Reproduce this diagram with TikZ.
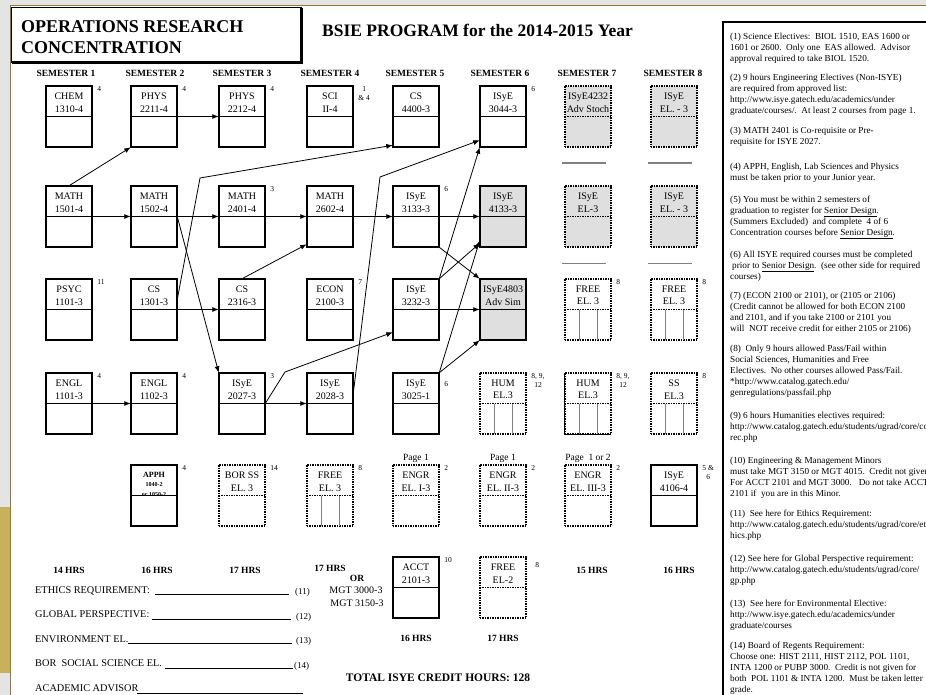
\documentclass[tikz,border=0pt]{standalone}
\usepackage{fontspec}
\setmainfont{Liberation Serif}
\usetikzlibrary{arrows.meta}
\definecolor{slidegray}{HTML}{E4E4E4}
\definecolor{slidegold}{HTML}{C7B15C}
\definecolor{rulegold}{HTML}{8F7B35}

\begin{document}
\begin{tikzpicture}[x=1pt, y=-1pt,
    box/.style={draw, minimum width=46.5pt, minimum height=61.5pt, inner sep=0pt, outer sep=0pt},
    course/.style={box, line width=1.6pt,
        path picture={\draw[line width=1.6pt] (path picture bounding box.west) -- (path picture bounding box.east);},
        label={[ctext]north:#1}},
    elective/.style={box, line width=1.8pt, dash pattern=on 1.4pt off 1.1pt,
        path picture={\draw[line width=1.8pt, dash pattern=on 1.4pt off 1.1pt] (path picture bounding box.west) -- (path picture bounding box.east);},
        label={[ctext]north:#1}},
    grayfill/.style={fill=gray!25},
    ctext/.style={anchor=north, align=center, inner sep=0pt, yshift=-7pt, font=\fontsize{10}{12.5}\selectfont},
    fn/.style={label={[fnote]north east:#1}},
    fnote/.style={anchor=north west, align=center, inner sep=0pt, xshift=5pt, yshift=-1pt, font=\fontsize{7.5}{8.5}\selectfont},
    page/.style={label={[anchor=south, inner sep=0pt, yshift=2pt, font=\fontsize{9.5}{11}\selectfont]north:#1}},
    sem/.style={inner sep=0pt, font=\fontsize{9.5}{11}\selectfont\bfseries},
    hrs/.style={inner sep=0pt, font=\fontsize{9.5}{11}\selectfont\bfseries},
    form/.style={anchor=base west, inner sep=0pt, font=\fontsize{10.3}{12}\selectfont},
    formno/.style={anchor=base west, inner sep=0pt, font=\fontsize{9}{11}\selectfont},
    remark/.style={anchor=north west, align=left, inner sep=0pt, font=\fontsize{9.2}{11}\selectfont},
    arr/.style={-{Latex[length=6.5pt,width=5pt]}, line width=0.8pt},
    tally/.style={gray, line width=1pt},
    rule/.style={gray, line width=1.5pt},
    blank/.style={line width=0.7pt}
]
\useasboundingbox (0,0) rectangle (926,695);

% slide background
\fill[white] (0,0) rectangle (926,695);
\fill[slidegray] (0,0) rectangle (10,695);
\fill[slidegray] (0,0) rectangle (926,5);
\fill[slidegold] (0,507) rectangle (10,673);
\draw[rulegold, line width=1.5pt] (10.5,695) -- (10.5,5.5) -- (926,5.5);

% headings
\draw[line width=1.5pt] (11.5,7.5) rectangle (301,62);
\draw[line width=2.5pt] (302,8) -- (302,63) -- (12,63);
\node[anchor=base west, inner sep=0pt, font=\fontsize{18}{20}\selectfont\bfseries] (orc1) at (21,33) {OPERATIONS RESEARCH};
\node[anchor=base west, inner sep=0pt, font=\fontsize{18}{20}\selectfont\bfseries] (orc2) at (21,54) {CONCENTRATION};
\node[anchor=base west, inner sep=0pt, font=\fontsize{17.5}{20}\selectfont\bfseries] (bsie) at (322,37) {BSIE PROGRAM for the 2014-2015 Year};

\foreach \x/\n in {66/1,155/2,242/3,330/4,415/5,500/6,587/7,673/8}
    \node[sem] (sem\n) at (\x,73) {SEMESTER \n};

% row 1
\node[course={CHEM\\1310-4}, fn=4] (chem) at (69,116.5) {};
\node[course={PHYS\\2211-4}, fn=4] (phys1) at (154,116.5) {};
\node[course={PHYS\\2212-4}, fn=4] (phys2) at (242,116.5) {};
\node[course={SCI\\II-4}, fn={1\\\& 4}] (sci) at (330,116.5) {};
\node[course={CS\\4400-3}] (cs4400) at (416,116.5) {};
\node[course={ISyE\\3044-3}, fn=6] (isye3044) at (503,116.5) {};
\node[elective={ISyE4232\\Adv Stoch}, grayfill] (stoch) at (588,116.5) {};
\node[elective={ISyE\\EL. - 3}, grayfill] (isyeela) at (674,116.5) {};

% row 2
\node[course={MATH\\1501-4}] (math1501) at (69,216.5) {};
\node[course={MATH\\1502-4}] (math1502) at (154,216.5) {};
\node[course={MATH\\2401-4}, fn=3] (math2401) at (242,216.5) {};
\node[course={MATH\\2602-4}] (math2602) at (330,216.5) {};
\node[course={ISyE\\3133-3}, fn=6] (isye3133) at (416,216.5) {};
\node[course={ISyE\\4133-3}, grayfill] (isye4133) at (503,216.5) {};
\node[elective={ISyE\\EL-3}, grayfill] (isyeelb) at (588,216.5) {};
\node[elective={ISyE\\EL. - 3}, grayfill] (isyeelc) at (674,216.5) {};

% row 3
\node[course={PSYC\\1101-3}, fn=11] (psyc) at (69,309.5) {};
\node[course={CS\\1301-3}] (cs1301) at (154,309.5) {};
\node[course={CS\\2316-3}] (cs2316) at (242,309.5) {};
\node[course={ECON\\2100-3}, fn=7] (econ) at (330,309.5) {};
\node[course={ISyE\\3232-3}] (isye3232) at (416,309.5) {};
\node[course={ISyE4803\\Adv Sim}, grayfill] (advsim) at (503,309.5) {};
\node[elective={FREE\\EL. 3}, fn=8] (free7) at (588,309.5) {};
\node[elective={FREE\\EL. 3}, fn=8] (free8) at (674,309.5) {};

% row 4
\node[course={ENGL\\1101-3}, fn=4] (engl1) at (69,403.5) {};
\node[course={ENGL\\1102-3}, fn=4] (engl2) at (154,403.5) {};
\node[course={ISyE\\2027-3}, fn=3] (isye2027) at (242,403.5) {};
\node[course={ISyE\\2028-3}] (isye2028) at (330,403.5) {};
\node[course={ISyE\\3025-1}, label={[fnote, yshift=-8pt]north east:6}] (isye3025) at (416,403.5) {};
\node[elective={HUM\\EL.3}, fn={8, 9,\\12}] (hum6) at (503,403.5) {};
\node[elective={HUM\\EL.3}, fn={8, 9,\\12}] (hum7) at (588,403.5) {};
\node[elective={SS\\EL.3}, fn=8] (ss8) at (674,403.5) {};

% row 5
\node[course={\fontsize{8}{9}\selectfont\bfseries APPH\\[-3pt]\fontsize{6}{7}\selectfont\bfseries 1040-2\\[-3pt]\fontsize{6}{7}\selectfont\bfseries or 1050-2}, fn=4] (apph) at (154,495.5) {};
\node[elective={BOR SS\\EL. 3}, fn=14] (borss) at (242,495.5) {};
\node[elective={FREE\\EL. 3}, fn=8] (free4) at (330,495.5) {};
\node[elective={ENGR\\EL. I-3}, fn=2, page={Page 1}] (engr1) at (416,495.5) {};
\node[elective={ENGR\\EL. II-3}, fn=2, page={Page 1}] (engr2) at (503,495.5) {};
\node[elective={ENGR\\EL. III-3}, fn=2, page={Page\ \ 1 or 2}] (engr3) at (588,495.5) {};
\node[course={ISyE\\4106-4}, fn={5 \&\\6}] (isye4106) at (674,495.5) {};

% row 6
\node[course={ACCT\\2101-3}, fn=10] (acct) at (416,587.5) {};
\node[elective={FREE\\EL-2}, label={[fnote, xshift=4pt, yshift=-5pt]north east:8}] (free6) at (503,587.5) {};

% split bottoms and separators
\foreach \n in {free4,free7,free8,hum6,hum7,ss8} {
    \draw[tally] ([xshift=15pt]\n.south west) -- ([xshift=15pt]\n.west);
    \draw[tally] ([xshift=-14pt]\n.south east) -- ([xshift=-14pt]\n.east);
}
\draw[line width=1pt] (hum7.north west) -- (hum7.south west) -- (hum7.south east);
\foreach \n in {stoch,isyeela,isyeelb,isyeelc}
    \draw[rule] ([xshift=-3pt,yshift=-16pt]\n.south west) -- ([xshift=-5pt,yshift=-16pt]\n.south east);

% prerequisites
\coordinate (k1) at (200,178);
\coordinate (k2) at (285,372);
\coordinate (k3) at (380,177);
\draw[arr] (phys1.east) -- (phys2.west);
\draw[arr] (math1501.north) -- (phys1.south west);
\draw[arr] (math1501.east) -- (math1502.west);
\draw[arr] (math1502.east) -- (math2401.west);
\draw[arr] (math2401.east) -- (math2602.west);
\draw[arr] (math2602.east) -- (isye3133.west);
\draw[arr] (isye3133.east) -- (isye4133.west);
\draw[arr] (math1502.east) -- (isye2027.north west);
\draw[arr] (cs1301.east) -- (cs2316.west);
\draw[arr] ([yshift=10pt]cs1301.east) -- (k1) -- ([yshift=2pt]cs4400.south west);
\draw[arr] (cs2316.north) -- ([yshift=3pt]math2602.south west);
\draw[arr] (engl1.east) -- (engl2.west);
\draw[arr] (isye2027.east) -- (isye2028.west);
\draw[arr] (isye2027.east) -- (k2) -- ([yshift=8pt]isye3232.south west);
\draw[arr] ([yshift=10pt]isye2028.east) -- (k3) -- ([yshift=7pt]isye3044.south west);
\draw[arr] (isye3232.north east) -- (isye3044.south west);
\draw[arr] (isye3232.north east) -- ([yshift=4pt]isye4133.south west);
\draw[arr] (isye3133.south east) -- (advsim.north west);
\draw[arr] (isye3232.east) -- (advsim.west);
\draw[arr] (isye3025.north east) -- ([yshift=7pt]isye4133.south west);
\draw[arr] (isye3025.north east) -- (advsim.south west);

% hours
\node[hrs] (h1) at (69,570) {14 HRS};
\node[hrs] (h2) at (157,570) {16 HRS};
\node[hrs] (h3) at (245,570) {17 HRS};
\node[hrs] (h4) at (330,568) {17 HRS};
\node[hrs] (hor) at (357,578) {OR};
\node[inner sep=0pt, font=\fontsize{10}{12}\selectfont] (mgt1) at (356,590) {MGT 3000-3};
\node[inner sep=0pt, font=\fontsize{10}{12}\selectfont] (mgt2) at (357,603) {MGT 3150-3};
\node[hrs] (h5) at (416,638) {16 HRS};
\node[hrs] (h6) at (503,638) {17 HRS};
\node[hrs] (h7) at (592,570) {15 HRS};
\node[hrs] (h8) at (679,570) {16 HRS};

% sign-off lines
\node[form] (ethics) at (35,593.5) {ETHICS REQUIREMENT:};
\draw[blank] (155,594) -- (289,594);
\node[formno] (n11) at (295,594) {(11)};
\node[form] (global) at (35,617) {GLOBAL PERSPECTIVE:};
\draw[blank] (152,619) -- (291,619);
\node[formno] (n12) at (296,619) {(12)};
\node[form] (envir) at (35,642) {ENVIRONMENT EL.};
\draw[blank] (128,643) -- (292,643);
\node[formno] (n13) at (296,643) {(13)};
\node[form] (borsoc) at (35,666) {BOR\ \ SOCIAL SCIENCE EL.};
\draw[blank] (165,668) -- (293,668);
\node[formno] (n14) at (294,668) {(14)};
\node[form] (advisor) at (35,691) {ACADEMIC ADVISOR};
\draw[blank] (137,693) -- (303,693);
\node[inner sep=0pt, font=\fontsize{11.5}{13}\selectfont\bfseries] (total) at (438,678) {TOTAL ISYE CREDIT HOURS: 128};

% footnotes panel
\draw[line width=2pt] (940,22) -- (723,22) -- (723,720);
\node[remark] (r1) at (730,32.5) {(1) Science Electives:\ \ BIOL 1510, EAS 1600 or\\1601 or 2600.\ \ Only one\ \ EAS allowed.\ \ Advisor\\approval required to take BIOL 1520.};
\node[remark] (r2) at (730,73.5) {(2) 9 hours Engineering Electives (Non-ISYE)\\are required from approved list:\\http://www.isye.gatech.edu/academics/under\\graduate/courses/.\ \ At least 2 courses from page 1.};
\node[remark] (r3) at (730,126.5) {(3) MATH 2401 is Co-requisite or Pre-\\requisite for ISYE 2027.};
\node[remark] (r4) at (730,162.5) {(4) APPH, English, Lab Sciences and Physics\\must be taken prior to your Junior year.};
\node[remark] (r5) at (730,195.5) {(5) You must be within 2 semesters of\\graduation to register for \underline{Senior Design}.\\(Summers Excluded)\ \ and complete\ \ 4 of 6\\Concentration courses before \underline{Senior Design}.};
\node[remark] (r6) at (730,250.5) {(6) All ISYE required courses must be completed\\\hspace{2pt}prior to \underline{Senior Design}.\ \ (see other side for required\\courses)};
\node[remark] (r7) at (730,291.5) {(7) (ECON 2100 or 2101), or (2105 or 2106)\\(Credit cannot be allowed for both ECON 2100\\and 2101, and if you take 2100 or 2101 you\\will\ \ NOT receive credit for either 2105 or 2106)};
\node[remark] (r8) at (730,344.5) {(8)\ \ Only 9 hours allowed Pass/Fail within\\Social Sciences, Humanities and Free\\Electives.\ \ No other courses allowed Pass/Fail.\\*http://www.catalog.gatech.edu/\\genregulations/passfail.php};
\node[remark] (r9) at (730,411.5) {(9) 6 hours Humanities electives required:\\http://www.catalog.gatech.edu/students/ugrad/core/co\\rec.php};
\node[remark] (r10) at (730,456.5) {(10) Engineering \& Management Minors\\must take MGT 3150 or MGT 4015.\ \ Credit not given\\For ACCT 2101 and MGT 3000.\ \ \ Do not take ACCT\\2101 if\ \ you are in this Minor.};
\node[remark] (r11) at (730,509.5) {(11)\ \ See here for Ethics Requirement:\\http://www.catalog.gatech.edu/students/ugrad/core/et\\hics.php};
\node[remark] (r12) at (730,554.5) {(12) See here for Global Perspective requirement:\\http://www.catalog.gatech.edu/students/ugrad/core/\\gp.php};
\node[remark] (r13) at (730,599.5) {(13)\ \ See here for Environmental Elective:\\http://www.isye.gatech.edu/academics/under\\graduate/courses};
\node[remark] (r14) at (730,641.5) {(14) Board of Regents Requirement:\\Choose one: HIST 2111, HIST 2112, POL 1101,\\INTA 1200 or PUBP 3000.\ \ Credit is not given for\\both\ \ POL 1101 \& INTA 1200.\ \ Must be taken letter\\grade.};
\end{tikzpicture}
\end{document}
